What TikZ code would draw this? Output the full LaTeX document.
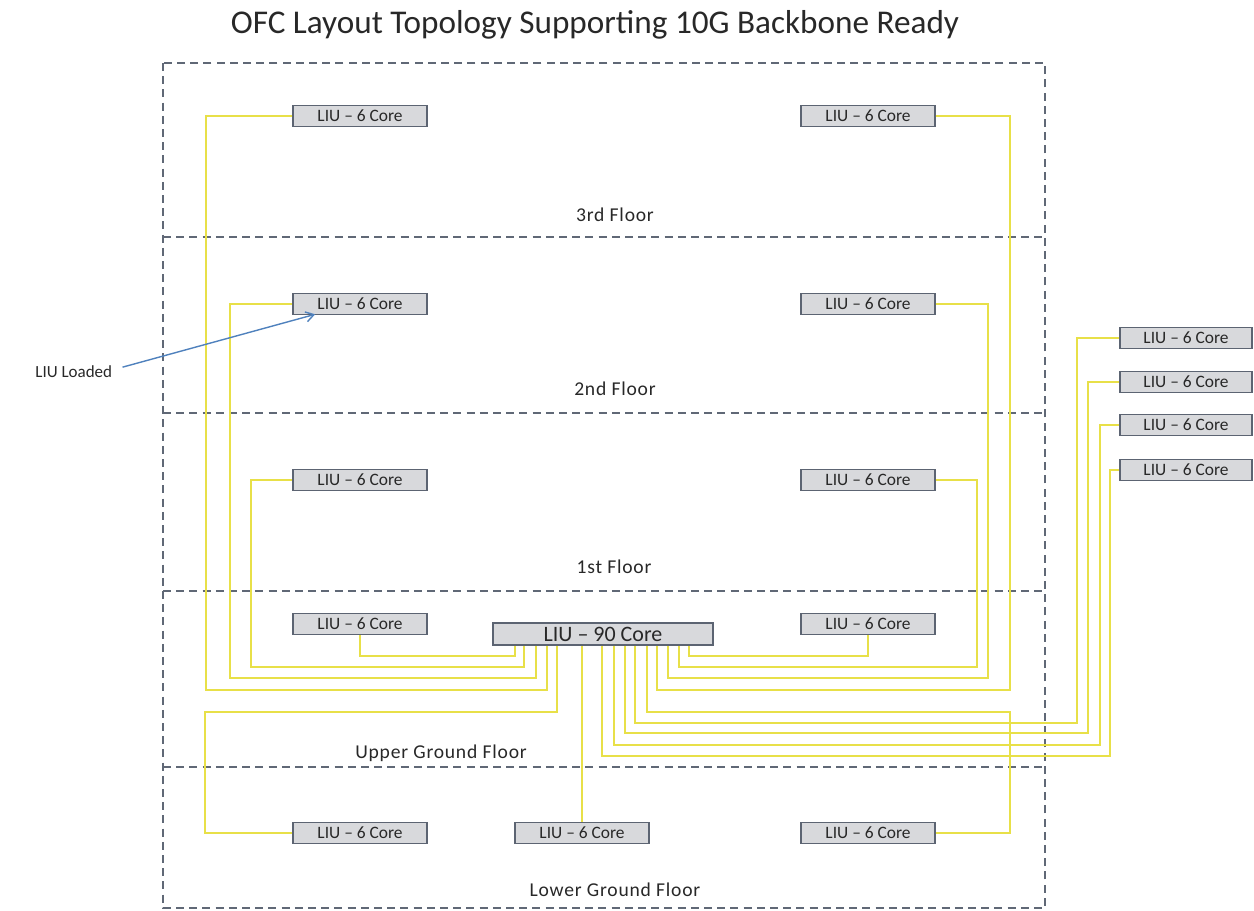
\documentclass[tikz,border=0pt]{standalone}
\usepackage{fontspec}
\setmainfont{Carlito}
\newfontfamily\widelabel[LetterSpace=4]{Carlito}
\usetikzlibrary{calc,arrows.meta}

\definecolor{fibre}{RGB}{232,224,72}
\definecolor{boxfill}{RGB}{216,217,220}
\definecolor{boxedge}{RGB}{92,100,114}
\definecolor{floorline}{RGB}{96,104,118}
\definecolor{pointer}{RGB}{79,129,189}
\definecolor{ink}{RGB}{40,40,40}

\begin{document}
\begin{tikzpicture}[x=0.5pt,y=-0.5pt,
  liu/.style={draw=boxedge, fill=boxfill, line width=0.8pt,
    minimum width=67pt, minimum height=10.5pt, inner sep=0pt,
    text=ink, font=\fontsize{8.7}{9}\selectfont},
  corebox/.style={liu, minimum width=110pt, minimum height=11pt,
    font=\fontsize{11}{12}\selectfont},
  fibreline/.style={draw=fibre, line width=1.1pt},
  floordiv/.style={draw=floorline, line width=0.9pt, dash pattern=on 4pt off 2.6pt},
  floorname/.style={anchor=base, text=ink, font=\widelabel\fontsize{9.8}{11}\selectfont},
  callout/.style={draw=pointer, line width=0.7pt, -{Straight Barb[length=4pt,width=5pt]}}]

\useasboundingbox (0,0) rectangle (1254,911);

% title
\node[anchor=base, text=ink, font=\fontsize{16.6}{19}\selectfont] (title) at (595,33)
  {OFC Layout Topology Supporting 10G Backbone Ready};

% building outline and floor divisions
\draw[floordiv] (163,63) rectangle (1045,908);
\foreach \yy in {237,413,591,767}
  \draw[floordiv] (163,\yy) -- (1045,\yy);

% floor names
\node[floorname] (f3)  at (615,221) {3rd Floor};
\node[floorname] (f2)  at (615,395) {2nd Floor};
\node[floorname] (f1)  at (614,573) {1st Floor};
\node[floorname] (fug) at (441,758) {Upper Ground Floor};
\node[floorname] (flg) at (615,896) {Lower Ground Floor};

% distribution boxes per floor
\node[liu] (l3)  at (360,116) {LIU -- 6 Core};
\node[liu] (r3)  at (868,116) {LIU -- 6 Core};
\node[liu] (l2)  at (360,304) {LIU -- 6 Core};
\node[liu] (r2)  at (868,304) {LIU -- 6 Core};
\node[liu] (l1)  at (360,480) {LIU -- 6 Core};
\node[liu] (r1)  at (868,480) {LIU -- 6 Core};
\node[liu] (gl)  at (360,624) {LIU -- 6 Core};
\node[liu] (gr)  at (868,624) {LIU -- 6 Core};
\node[liu] (lgl) at (360,833) {LIU -- 6 Core};
\node[liu] (lgm) at (582,833) {LIU -- 6 Core};
\node[liu] (lgr) at (868,833) {LIU -- 6 Core};

% external boxes
\node[liu, minimum width=66pt] (s1) at (1186,338) {LIU -- 6 Core};
\node[liu, minimum width=66pt] (s2) at (1186,382) {LIU -- 6 Core};
\node[liu, minimum width=66pt] (s3) at (1186,425) {LIU -- 6 Core};
\node[liu, minimum width=66pt] (s4) at (1186,470) {LIU -- 6 Core};

% main distribution box
\node[corebox] (core) at (603,634) {LIU -- 90 Core};

% fibre ports along the bottom of the main box
\coordinate (pL1) at ($(core.south west)+(23,0)$);
\coordinate (pL2) at ($(core.south west)+(32,0)$);
\coordinate (pL3) at ($(core.south west)+(44,0)$);
\coordinate (pL4) at ($(core.south west)+(55,0)$);
\coordinate (pL5) at ($(core.south west)+(65,0)$);
\coordinate (pR1) at ($(core.south west)+(110,0)$);
\coordinate (pR2) at ($(core.south west)+(122,0)$);
\coordinate (pR3) at ($(core.south west)+(133,0)$);
\coordinate (pR4) at ($(core.south west)+(143,0)$);
\coordinate (pR5) at ($(core.south west)+(155,0)$);
\coordinate (pR6) at ($(core.south west)+(165,0)$);
\coordinate (pR7) at ($(core.south west)+(176,0)$);
\coordinate (pR8) at ($(core.south west)+(187,0)$);
\coordinate (pR9) at ($(core.south west)+(197,0)$);

% left riser bundle
\draw[fibreline] (l3.west) -| (206,690) -| (pL4);
\draw[fibreline] (l2.west) -| (230,678) -| (pL3);
\draw[fibreline] (l1.west) -| (251,667) -| (pL2);
\draw[fibreline] (gl.south) |- ($(pL1)+(0,10)$) -- (pL1);
\draw[fibreline] (pL5) |- (205,712) |- (lgl.west);

% right riser bundle
\draw[fibreline] (r3.east) -| (1010,690) -| (pR6);
\draw[fibreline] (r2.east) -| (988,678) -| (pR7);
\draw[fibreline] (r1.east) -| (977,667) -| (pR8);
\draw[fibreline] (gr.south) |- ($(pR9)+(0,10)$) -- (pR9);
\draw[fibreline] (pR5) |- (1010,712) |- (lgr.east);

% lower ground, middle
\draw[fibreline] (lgm.north) -- (lgm.north |- core.south);

% external runs
\draw[fibreline] (pR4) |- (1077,723) |- (s1.west);
\draw[fibreline] (pR3) |- (1088,733) |- (s2.west);
\draw[fibreline] (pR2) |- (1100,745) |- (s3.west);
\draw[fibreline] (pR1) |- (1110,756) |- (s4.west);

% callout
\node[anchor=base west, inner sep=0pt, text=ink, font=\fontsize{8.5}{10}\selectfont]
  (loaded) at (35,377) {LIU Loaded};
\draw[callout] ($(loaded.east)+(10,-4)$) -- ($(l2.south west)+(23,-1)$);

\end{tikzpicture}
\end{document}
